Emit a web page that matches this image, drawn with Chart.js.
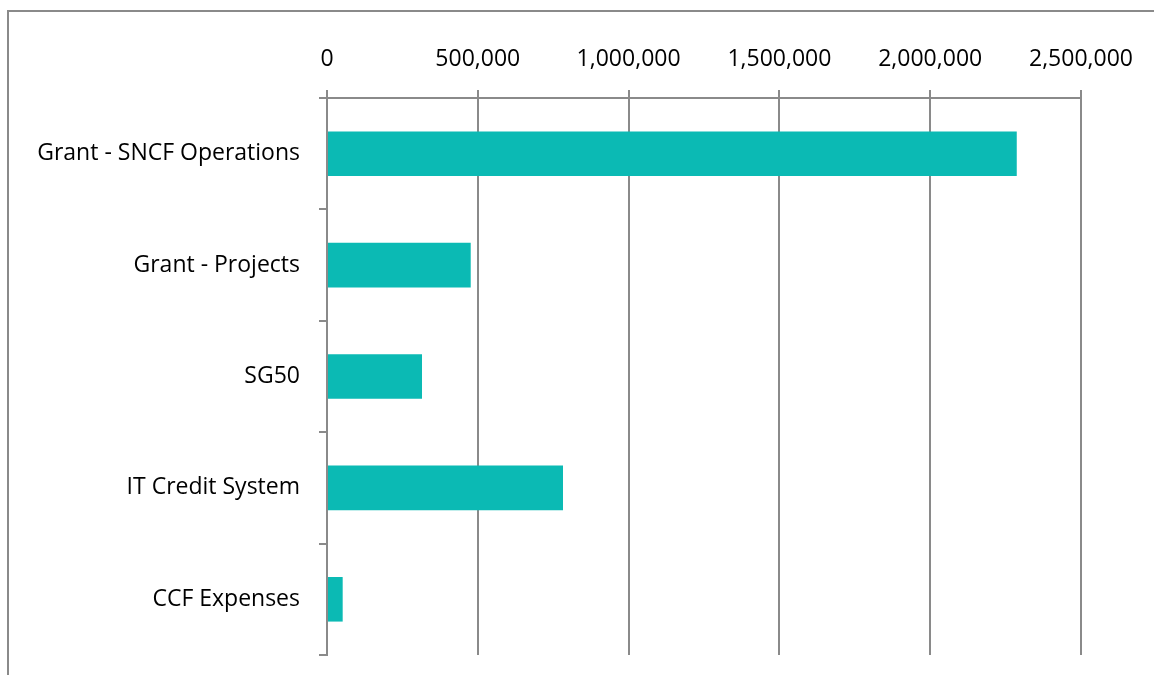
<!DOCTYPE html>
<html>
<head>
<meta charset="utf-8">
<script src="https://cdn.jsdelivr.net/npm/chart.js@4"></script>
<style>
  html, body { margin: 0; padding: 0; background: #fff; }
  #wrap { width: 1154px; height: 675px; position: relative; }
</style>
</head>
<body>
<div id="wrap"><canvas id="budgetChart"></canvas></div>
<script>
const categories = ['Grant - SNCF Operations', 'Grant - Projects', 'SG50', 'IT Credit System', 'CCF Expenses'];
const amounts = [2287000, 476500, 315000, 782500, 52000];
const tickValues = [0, 500000, 1000000, 1500000, 2000000, 2500000];

const gridGrey = '#8a8a8a';
const barColor = '#0bbab4';
const fontFamily = '"Open Sans", sans-serif';

// outer frame like the spreadsheet chart border
const framePlugin = {
  id: 'frame',
  beforeDraw(chart) {
    const ctx = chart.ctx;
    ctx.save();
    ctx.strokeStyle = '#8a8a8a';
    ctx.lineWidth = 2;
    ctx.beginPath();
    ctx.moveTo(8, 675);
    ctx.lineTo(8, 11);
    ctx.lineTo(1154, 11);
    ctx.stroke();
    ctx.restore();
  }
};

const ctx = document.getElementById('budgetChart').getContext('2d');
const chart = new Chart(ctx, {
  type: 'bar',
  data: {
    labels: categories,
    datasets: [{
      data: amounts,
      backgroundColor: barColor,
      borderWidth: 0,
      barPercentage: 0.4,
      categoryPercentage: 1
    }]
  },
  options: {
    indexAxis: 'y',
    responsive: true,
    maintainAspectRatio: false,
    animation: false,
    layout: { padding: { left: 0, right: 73, top: 0, bottom: 20 } },
    plugins: {
      legend: { display: false },
      tooltip: { enabled: false }
    },
    scales: {
      x: {
        position: 'top',
        min: 0,
        max: 2500000,
        afterBuildTicks: axis => { axis.ticks = tickValues.map(v => ({ value: v })); },
        afterFit: axis => { axis.height = 98; },
        ticks: {
          color: '#000',
          padding: 17,
          font: { family: fontFamily, size: 23 },
          callback: v => v.toLocaleString('en-US')
        },
        grid: { color: gridGrey, lineWidth: 2, tickLength: 8 },
        border: { color: gridGrey, width: 2 }
      },
      y: {
        offset: true,
        afterFit: axis => {
          axis.width = 327;
          axis.paddingTop = 0;
          axis.paddingBottom = 0;
        },
        ticks: {
          color: '#000',
          padding: 19,
          font: { family: fontFamily, size: 23 }
        },
        grid: { offset: true, drawOnChartArea: false, color: gridGrey, lineWidth: 2, tickLength: 8 },
        border: { color: gridGrey, width: 2 }
      }
    }
  },
  plugins: [framePlugin]
});
</script>
</body>
</html>
